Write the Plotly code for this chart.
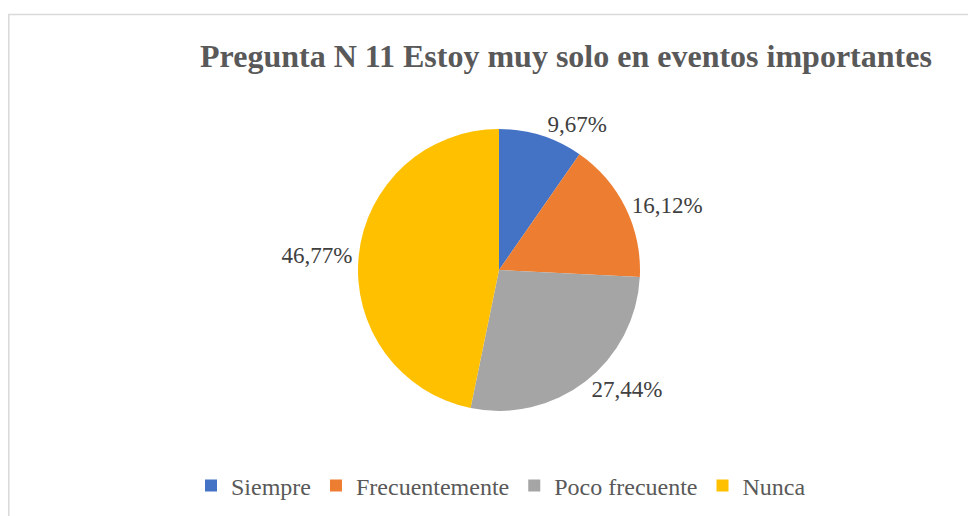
import plotly.graph_objects as go

categories = ["Siempre", "Frecuentemente", "Poco frecuente", "Nunca"]
percentages = [9.67, 16.12, 27.44, 46.77]
colors = ["#4472C4", "#ED7D31", "#A5A5A5", "#FFC000"]
title_text = "Pregunta N 11 Estoy muy solo en eventos importantes"

# the page body keeps its default 8px margin, so the figure is 8px smaller
W, H = 968, 508
SERIF = "Liberation Serif, Times New Roman, serif"

fig = go.Figure(go.Pie(
    labels=categories,
    values=percentages,
    marker=dict(colors=colors, line=dict(width=0)),
    sort=False,
    direction="clockwise",
    rotation=0,
    textposition="outside",
    texttemplate="%{value:.2f}%",
    textfont=dict(family=SERIF, size=23, color="#404040"),
    domain=dict(x=[350 / W, 632 / W], y=[1 - 403 / H, 1 - 121 / H]),
    hoverinfo="label+value",
))

fig.update_layout(
    width=W, height=H,
    margin=dict(l=0, r=0, t=0, b=0),
    paper_bgcolor="white",
    separators=",.",
    showlegend=True,
    legend=dict(
        orientation="h",
        x=493 / W, xanchor="center",
        y=1 - 478 / H, yanchor="middle",
        font=dict(family=SERIF, size=24, color="#595959"),
        itemclick=False,
    ),
    annotations=[dict(
        text="<b>" + title_text + "</b>",
        x=558 / W, y=1 - 48 / H, xref="paper", yref="paper",
        xanchor="center", yanchor="middle", showarrow=False,
        font=dict(family=SERIF, size=32, color="#595959"),
    )],
    shapes=[dict(
        type="rect", xref="paper", yref="paper",
        x0=0.8 / W, x1=1.2, y0=-0.2, y1=1 - 6.5 / H,
        line=dict(color="#D9D9D9", width=1.5),
        fillcolor="rgba(0,0,0,0)", layer="below",
    )],
)

fig.write_html("out.html")
